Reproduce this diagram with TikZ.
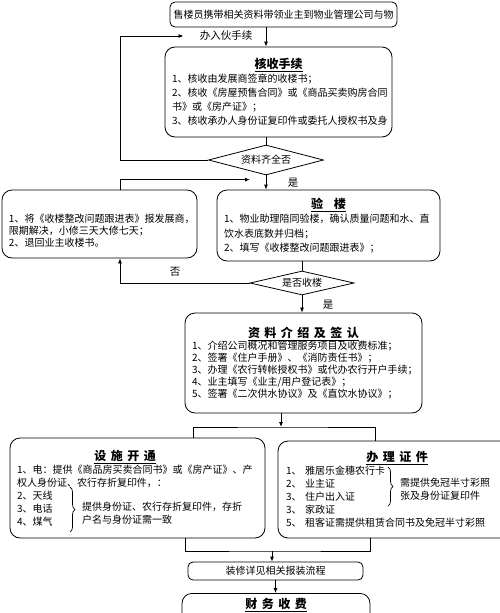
\documentclass[tikz,border=0pt]{standalone}
\usepackage{fontspec}
\setmainfont{Noto Sans CJK SC}
\usetikzlibrary{shapes.geometric, arrows.meta, positioning, calc, decorations.pathreplacing}

% underlined bold title line, optional shift to the left
\newcommand{\ttl}[2][0pt]{\centerline{\fontsize{12}{14}\selectfont\bfseries\underline{#2}\hspace{#1}}}
\newcommand{\tsp}{\hspace{4.5pt}}

\tikzset{
  procbox/.style={draw, rounded corners=10pt, line width=0.8pt, align=left, inner xsep=7pt, inner ysep=0pt},
  flowbox/.style={draw, rounded corners=5pt, line width=0.8pt, align=center, inner sep=0pt},
  decide/.style={draw, diamond, aspect=4, inner sep=0pt, line width=0.8pt},
  flowline/.style={line width=0.8pt},
  bracket/.style={line width=0.7pt, decorate, decoration={brace, amplitude=5pt}},
  tag/.style={inner sep=0pt, font=\fontsize{10.5}{12}\selectfont},
  bracenote/.style={inner sep=0pt, align=left},
  >={Latex[length=5pt,width=4pt]}
}

\begin{document}
\begin{tikzpicture}[x=1pt, y=-1pt, font=\fontsize{10}{13}\selectfont]
  \useasboundingbox (0,0) rectangle (500,613);
  \clip (0,0) rectangle (500,613);

  % Reception
  \node[flowbox, minimum width=227pt, minimum height=25pt] (start) at (283.5,14.5) {售楼员携带相关资料带领业主到物业管理公司与物};
  \node[tag] (ruhuo) at (226,36) {办入伙手续};

  \node[procbox, text width=213pt, minimum height=90pt, font=\fontsize{10}{14}\selectfont] (hs) at (278.5,92) {
    \ttl{核收手续}
    1、核收由发展商签章的收楼书；\\
    2、核收《房屋预售合同》或《商品买卖购房合同\\
    书》或《房产证》；\\
    3、核收承办人身份证复印件或委托人授权书及身};

  \node[decide, minimum width=115pt, minimum height=30pt] (zlq) at (266,160) {资料齐全否};

  % Inspection
  \node[procbox, text width=209pt, minimum height=71pt, font=\fontsize{10}{14.5}\selectfont] (yl) at (328.5,225.5) {
    \ttl{验\hspace{11pt}楼}
    1、物业助理陪同验楼，确认质量问题和水、直\\
    饮水表底数并归档；\\
    2、填写《收楼整改问题跟进表》；};

  \node[procbox, text width=181pt, minimum height=68pt, font=\fontsize{10}{12}\selectfont] (bh) at (99.5,224) {
    \rule{0pt}{21pt}1、将《收楼整改问题跟进表》报发展商，\\
    限期解决，小修三天大修七天；\\
    2、退回业主收楼书。};

  \node[decide, minimum width=104pt, minimum height=24pt] (sfsl) at (302,283) {是否收楼};

  % Signing
  \node[procbox, text width=223pt, minimum height=100pt, font=\fontsize{10}{12}\selectfont] (zl) at (303.5,363) {
    \ttl{资\tsp 料\tsp 介\tsp 绍\tsp 及\tsp 签\tsp 认}
    1、介绍公司概况和管理服务项目及收费标准；\\
    2、签署《住户手册》、《消防责任书》；\\
    3、办理《农行转帐授权书》或代办农行开户手续；\\
    4、业主填写《业主/用户登记表》；\\
    5、签署《二次供水协议》及《直饮水协议》；};

  % Utilities and certificates
  \node[procbox, text width=241pt, minimum height=100pt] (ss) at (137.5,488) {
    \ttl[25pt]{设\tsp 施\tsp 开\tsp 通}
    1、电：提供《商品房买卖合同书》或《房产证》、产\\
    权人身份证、农行存折复印件，：\\
    2、天线\\
    3、电话\\
    4、煤气};
  \draw[bracket] (70,487) -- (70,532);
  \node[bracenote, anchor=west] (ssnote) at (82,513.5) {提供身份证、农行存折复印件，存折\\户名与身份证需一致};

  \node[procbox, inner xsep=8pt, text width=222pt, minimum height=97pt] (bz) at (397,489.5) {
    \ttl{办\tsp 理\tsp 证\tsp 件}
    \makebox[19pt][l]{1、}雅居乐金穗农行卡\\
    \makebox[19pt][l]{2、}业主证\\
    \makebox[19pt][l]{3、}住户出入证\\
    \makebox[19pt][l]{3、}家政证\\
    \makebox[19pt][l]{5、}租客证需提供租赁合同书及免冠半寸彩照};
  \draw[bracket] (388,467) -- (388,506);
  \node[bracenote, anchor=west] (bznote) at (400,489.5) {需提供免冠半寸彩照\\张及身份证复印件};

  % Decoration and fees
  \node[flowbox, minimum width=175pt, minimum height=18pt] (zx) at (275.5,571) {装修详见相关报装流程};
  \node[procbox, anchor=north, minimum width=188pt, inner ysep=5pt, text depth=40pt] (cw) at (276,593) {
    \fontsize{12}{14}\selectfont\bfseries\underline{财\tsp 务\tsp 收\tsp 费}};

  % Connectors
  \draw[flowline, ->] (start.south -| zlq.north) -- (hs.north -| zlq.north);
  \draw[flowline] (hs.south -| zlq.north) -- (zlq.north);
  \draw[flowline, ->] (zlq.west) -- ++(-88,0) |- ([xshift=-16pt]ruhuo.west);
  \draw[flowline, ->] (zlq.south) -- (zlq.south |- yl.north);
  \node[tag] (yes1) at (293,183) {是};
  \draw[flowline, ->] ([xshift=20.5pt]bh.north) -- ++(0,-10) -- ++(130,0);

  \draw[flowline] (yl.south -| sfsl.north) -- (sfsl.north);
  \draw[flowline, ->] (sfsl.west) -| ([xshift=20.5pt]bh.south);
  \node[tag] (no1) at (175,272) {否};
  \draw[flowline, ->] (sfsl.south) -- (sfsl.south |- zl.north);
  \node[tag] (yes2) at (328,305) {是};

  \coordinate (split) at (281,427);
  \draw[flowline, ->] (zl.south -| split) -- (split);
  \draw[flowline] ([xshift=55.5pt]ss.north) |- (split) -| ([xshift=-22pt]bz.north);

  \coordinate (merge) at (272,551);
  \draw[flowline] ([xshift=47.5pt]ss.south) |- (merge) -| ([xshift=-27pt]bz.south);
  \draw[flowline, ->] (merge) -- (merge |- zx.north);
  \draw[flowline, ->] (zx.south) -- (zx.south |- cw.north);
\end{tikzpicture}
\end{document}
